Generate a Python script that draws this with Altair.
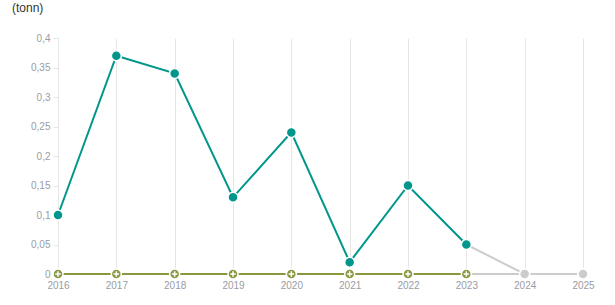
import altair as alt
import pandas as pd

years = [2016, 2017, 2018, 2019, 2020, 2021, 2022, 2023, 2024, 2025]
teal_vals = [0.1, 0.37, 0.34, 0.13, 0.24, 0.02, 0.15, 0.05, 0.0, 0.0]
olive_vals = [0, 0, 0, 0, 0, 0, 0, 0, 0, 0]
last_actual = 2023

TEAL = "#00968c"
OLIVE = "#8a973f"
GREY = "#cccccc"

rows = []
for y, t, o in zip(years, teal_vals, olive_vals):
    rows.append({"year": y, "value": t, "series": "teal", "actual": y <= last_actual})
    rows.append({"year": y, "value": o, "series": "olive", "actual": y <= last_actual})
df = pd.DataFrame(rows)

grid_vals = [y + h for y in years for h in (0.0, 0.5)][:-1]

x = alt.X("year:Q", scale=alt.Scale(domain=[2016, 2025], nice=False, zero=False),
          axis=alt.Axis(values=grid_vals, labelExpr="datum.value % 1 == 0 ? datum.value : ''",
                        format="d", grid=True, gridColor="#e6e6e6", gridWidth=1,
                        domain=False, ticks=False, labelColor="#9a9ca4", labelFontSize=10,
                        labelPadding=6, title=None, labelFont="Arial",
                        labelFlush=False, labelOverlap=False, labelBound=False))
y = alt.Y("value:Q", scale=alt.Scale(domain=[0, 0.4], nice=False),
          axis=alt.Axis(values=[0, 0.05, 0.1, 0.15, 0.2, 0.25, 0.3, 0.35, 0.4],
                        labelExpr="replace(format(datum.value, ''), '.', ',')",
                        grid=False, domain=True, domainColor="#e6e6e6", ticks=True,
                        tickColor="#e6e6e6", tickSize=5, labelColor="#9a9ca4",
                        labelFontSize=10, labelPadding=3, title=None, labelFont="Arial",
                        labelFlush=False))

base = alt.Chart(df)

grey_lines = base.transform_filter(f"datum.year >= {last_actual}").mark_line(
    color=GREY, strokeWidth=2).encode(x=x, y=y, detail="series:N")
olive_line = base.transform_filter(f"datum.series == 'olive' && datum.actual").mark_line(
    color=OLIVE, strokeWidth=2).encode(x=x, y=y)
teal_line = base.transform_filter(f"datum.series == 'teal' && datum.actual").mark_line(
    color=TEAL, strokeWidth=2).encode(x=x, y=y)

grey_pts = base.transform_filter("!datum.actual").mark_point(
    filled=True, size=100, color=GREY, stroke="white", strokeWidth=1.5, opacity=1).encode(x=x, y=y)
olive_pts = base.transform_filter("datum.series == 'olive' && datum.actual").mark_point(
    filled=True, size=100, color=OLIVE, stroke="white", strokeWidth=1.5, opacity=1).encode(x=x, y=y)
olive_cross = base.transform_filter("datum.series == 'olive' && datum.actual").mark_point(
    shape="M-1,0L1,0M0,-1L0,1", filled=False, size=30, stroke="white", strokeWidth=1.5,
    opacity=1).encode(x=x, y=y)
teal_pts = base.transform_filter("datum.series == 'teal' && datum.actual").mark_point(
    filled=True, size=100, color=TEAL, stroke="white", strokeWidth=1.5, opacity=1).encode(x=x, y=y)

title = alt.Chart(pd.DataFrame({"t": ["(tonn)"]})).mark_text(
    align="left", baseline="middle", fontSize=12, color="#333333", font="Arial"
).encode(text="t:N", x=alt.value(-46), y=alt.value(-30))

chart = alt.layer(grey_lines, olive_line, teal_line, grey_pts, olive_pts, olive_cross,
                  teal_pts, title).properties(
    width=525, height=236,
    autosize=alt.AutoSizeParams(type="none"),
    padding={"left": 58, "top": 38, "right": 32, "bottom": 31},
).configure_view(stroke=None)

chart.save("out.html", embed_options={"renderer": "svg", "actions": False})
